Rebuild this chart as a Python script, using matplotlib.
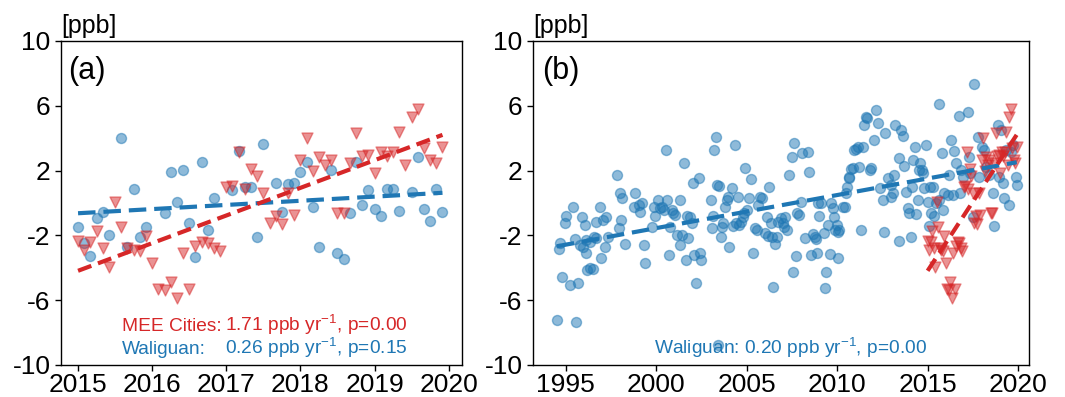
import numpy as np
import matplotlib
matplotlib.use("Agg")
import matplotlib.pyplot as plt

plt.rcParams['font.family'] = ['Liberation Sans', 'DejaVu Sans']
plt.rcParams['mathtext.fontset'] = 'custom'
plt.rcParams['mathtext.rm'] = 'Liberation Sans'
plt.rcParams['mathtext.it'] = 'Liberation Sans:italic'
plt.rcParams['axes.unicode_minus'] = False

BLUE = '#1f77b4'
RED = '#d62728'

# =============================
# DATA (monthly anomalies, ppb)
# =============================
# MEE cities, Jan 2015 - Dec 2019
mee_cities = [-2.33, -2.90, -2.39, -1.71, -2.80, -3.97, 0.04, -1.46, -2.80, -2.90, -2.94, -2.04,
              -3.68, -5.33, -5.37, -4.90, -5.88, -3.07, -5.33, -2.65, -2.43, -2.45, -2.80, -2.94,
              1.01, 1.07, 3.13, 0.84, 2.08, 1.69, 0.60, -1.21, -0.78, -1.32, 0.60, -0.74,
              2.65, 3.99, 1.98, 2.82, 2.35, 2.65, -0.60, -0.60, 2.45, 4.34, 2.90, 2.96,
              1.87, 3.13, 2.90, 3.13, 4.40, 2.35, 5.29, 5.80, 3.37, 2.65, 2.45, 3.44]

# Waliguan, Jan 2015 - Dec 2019 (panel a)
waliguan_a = [-1.50, -2.49, -3.25, -0.95, -0.53, -1.95, np.nan, 4.01, -2.70, 0.84, -2.12, -1.50,
              np.nan, np.nan, -0.60, 1.89, 0.08, 2.06, -1.26, -3.35, 2.55, -1.67, 0.29, np.nan,
              np.nan, 0.80, 3.23, 1.01, 1.01, -2.08, 3.66, np.nan, 1.26, -0.53, 1.17, 1.26,
              1.93, 2.55, -0.23, -2.72, np.nan, 2.06, -3.09, -3.48, -0.64, 2.51, -0.12, 0.80,
              -0.39, -0.80, 0.84, 0.84, -0.47, np.nan, 0.70, 2.86, -0.39, -1.11, 0.88, -0.53]

# Waliguan long record (panel b)
wlg_year = [1994.52, 1995.59, 1994.82, 1995.26, 1995.70, 1994.63, 1994.71, 1995.04, 1994.95, 1995.41,
            1995.50, 1995.78, 1995.92, 1996.05, 1996.11, 1996.18, 1996.37, 1996.51, 1996.55, 1996.66,
            1996.70, 1996.88, 1996.97, 1997.06, 1997.16, 1997.25, 1997.34, 1997.84, 1998.02, 1998.13,
            1997.95, 1998.08, 1998.26, 1996.14, 1995.96, 1996.33,
            1998.85, 1998.76, 1999.03, 1999.12, 1999.22, 1999.35, 1999.40, 1999.77, 1999.86, 1999.95,
            2000.08, 2000.19, 2000.32, 2000.41, 2000.56, 2000.63, 2000.69, 2000.78, 2000.88, 2000.96,
            2001.06, 2001.15, 2001.30, 2001.33, 2001.43, 2001.56, 2001.70, 2001.67, 2001.79, 2001.89,
            2001.98, 2002.03, 2002.11, 2002.22, 2002.35, 2002.40, 2002.48, 2003.02, 2003.09,
            2003.12, 2003.22, 2003.30, 2003.38, 2003.49, 2003.56, 2003.62, 2003.71, 2003.80, 2003.90,
            2003.99, 2004.04, 2004.17, 2004.26, 2004.36, 2004.41, 2004.54, 2004.59, 2004.67, 2004.78,
            2004.85, 2004.91, 2005.00, 2005.15, 2005.22, 2005.37, 2005.46, 2005.55, 2005.64, 2005.74,
            2005.83, 2006.01, 2006.10, 2006.20, 2006.25, 2006.33, 2006.38, 2006.47, 2006.57, 2006.66,
            2006.75, 2006.88, 2006.99, 2007.06, 2007.12, 2007.21, 2007.36, 2007.49, 2007.58, 2007.62,
            2007.73, 2007.80, 2007.91, 2008.04, 2008.22, 2003.43,
            2008.01, 2008.38, 2008.47, 2008.56, 2008.66, 2008.78, 2008.84, 2008.90, 2008.93, 2009.02,
            2009.12, 2009.26, 2009.39, 2009.34, 2009.48, 2009.58, 2009.67, 2009.76, 2009.82, 2009.89,
            2010.00, 2010.04, 2010.13, 2010.05, 2010.31, 2010.41, 2010.50, 2010.55, 2010.63, 2010.68,
            2010.77, 2010.87, 2010.96, 2011.05, 2011.14, 2011.23, 2011.33, 2011.42, 2011.51, 2011.60,
            2011.66, 2011.79, 2011.88, 2012.06, 2012.15, 2012.25, 2012.39, 2012.52, 2012.58, 2012.65,
            2012.80, 2012.98, 2013.08, 2013.17,
            2012.97, 2013.16, 2013.40, 2013.43, 2013.53, 2013.62, 2013.71, 2013.80, 2013.90, 2013.95,
            2014.08, 2014.13, 2014.21, 2014.32, 2014.36, 2014.45, 2014.50, 2014.58, 2014.69, 2014.76,
            2014.82, 2014.91, 2015.00, 2015.06, 2015.13, 2015.18, 2015.28, 2015.37, 2015.46, 2015.61,
            2015.64, 2015.79, 2015.87, 2015.92, 2016.10, 2016.20, 2016.29, 2016.38, 2016.47, 2016.57,
            2016.71, 2016.79, 2016.84, 2016.93, 2017.21, 2017.27, 2017.34, 2017.49, 2017.58, 2017.76,
            2017.85, 2018.00, 2018.13, 2018.22, 2018.41, 2018.59, 2018.68, 2018.87, 2018.96, 2019.05,
            2019.18, 2019.24, 2019.33, 2019.48, 2019.60, 2019.73, 2019.88, 2019.92]
wlg_ppb = [-7.22, -7.33, -4.59, -5.06, -4.96, -2.86, -2.49, -0.80, -1.25, -0.23,
           -2.24, -2.59, -0.84, -1.36, -3.07, -4.14, -4.03, -4.10, -2.08, -2.18,
           -1.15, -0.23, -3.42, -1.05, -2.70, -0.84, -2.08, 1.73, 0.64, 0.29,
           -1.56, -1.05, -2.53, -2.28, -2.70, -2.39,
           0.60, -0.23, -0.12, -0.53, 0.02, -2.59, -3.72, -1.46, -0.23, -0.80,
           0.19, -0.33, -0.23, -0.43, 3.27, 0.19, -3.21, -1.46, -0.43, -0.64,
           -0.74, -1.98, -2.59, 0.19, -1.98, 2.45, -0.80, -3.52, -2.18, -0.84,
           -1.25, 1.21, -3.21, -4.96, 1.52, -3.11, -3.52, 0.19, -1.56,
           -0.80, 3.27, 4.09, 1.11, 1.05, -2.08, -1.46, -1.21, -0.23, 0.19,
           0.39, -2.70, 0.91, -1.42, 3.58, -1.25, 0.39, -1.36, -1.15, -0.84,
           -0.60, 2.14, -0.43, 0.29, 1.46, -3.07, -1.56, -1.66, -0.12, 0.39,
           0.29, -1.87, -0.84, -2.04, 1.01, -1.25, -2.08, -5.21, -2.53, -2.08,
           -1.15, -0.95, -1.25, -1.46, -0.88, -1.66, 1.73, 2.86, -4.24, 3.68,
           -3.27, -0.60, -0.74, 3.07, -2.14, -8.77,
           0.08, 3.17, 1.93, -3.21, -1.91, -2.08, -2.24, -3.07, -0.02, -0.80,
           -0.02, -1.87, -4.24, -5.27, -1.36, -3.13, -0.02, -0.33, -0.84, -1.66,
           -1.36, -1.77, -1.66, -3.40, -0.23, -0.23, 0.60, 1.01, 1.52, 1.63,
           2.08, 2.14, 3.27, 3.31, 3.48, 2.24, -1.66, 3.48, 4.81, 5.33,
           5.23, 2.04, 2.14, 3.89, 5.74, 4.92, 0.91, 0.19, -1.79, 4.30,
           1.52, 1.11, 0.60, 4.81,
           0.39, 1.72, 2.76, -2.35, 4.51, 4.14, 2.28, 0.70, -0.33, -0.60,
           -2.08, 1.01, 2.65, 3.44, -0.70, 0.19, 2.04, 2.45, 2.04, 1.83,
           0.91, 3.58, 0.08, -1.42, 1.01, -0.64, 1.01, -0.80, 0.02, 6.09,
           0.19, 3.07, -0.43, 0.60, 0.49, 1.72, 3.89, 0.49, 3.23, 2.45,
           5.37, 0.60, 2.04, 1.62, 5.64, 2.86, 1.83, -0.84, 7.35, 4.05,
           1.62, 3.48, 3.27, 2.24, 1.72, 0.60, -1.42, 4.81, 1.62, 4.51,
           1.21, 0.29, 3.27, -0.12, 3.17, 3.58, 1.62, 1.11]

month_time = 2015 + np.arange(60) / 12.0
yticks = [-10, -6, -2, 2, 6, 10]


def trend_line(ax, x, y, color, dashes):
    x = np.asarray(x, dtype=float)
    y = np.asarray(y, dtype=float)
    ok = ~np.isnan(y)
    k, b = np.polyfit(x[ok], y[ok], 1)
    xx = np.array([x[ok].min(), x[ok].max()])
    ax.plot(xx, k * xx + b, color=color, lw=3, linestyle=(0, dashes), zorder=4)


def style_axis(ax):
    ax.set_ylim(-10, 10)
    ax.set_yticks(yticks)
    ax.tick_params(labelsize=19, length=4.5, width=1)
    ax.tick_params(axis='x', pad=1.5)
    ax.tick_params(axis='y', pad=3)
    for sp in ax.spines.values():
        sp.set_linewidth(1)
    ax.text(0.0, 1.01, '[ppb]', transform=ax.transAxes, ha='left', va='bottom', fontsize=18)


fig = plt.figure(figsize=(10.65, 3.97), dpi=100)
ax1 = fig.add_axes([61 / 1065, 32 / 397, 401 / 1065, 324 / 397])
ax2 = fig.add_axes([533 / 1065, 32 / 397, 496 / 1065, 324 / 397])

# =============================
# PANEL (a)
# =============================
ax1.scatter(month_time, waliguan_a, s=52, color=BLUE, alpha=0.5, edgecolors=BLUE, linewidths=1, zorder=2)
ax1.scatter(month_time, mee_cities, s=62, marker='v', color=RED, alpha=0.5, edgecolors=RED, linewidths=1, zorder=3)
trend_line(ax1, month_time, waliguan_a, BLUE, (4.2, 1.9))
trend_line(ax1, month_time, mee_cities, RED, (3.4, 1.7))
ax1.set_xlim(2014.77, 2020.18)
ax1.set_xticks([2015, 2016, 2017, 2018, 2019, 2020])
style_axis(ax1)
ax1.text(0.018, 0.955, '(a)', transform=ax1.transAxes, ha='left', va='top', fontsize=22)
ax1.text(2015.59, -7.9, 'MEE Cities:', color=RED, fontsize=13.8, va='baseline')
ax1.text(2016.98, -7.9, r'1.71 ppb yr$^{-1}$, p=0.00', color=RED, fontsize=13.8, va='baseline')
ax1.text(2015.59, -9.32, 'Waliguan:', color=BLUE, fontsize=13.8, va='baseline')
ax1.text(2016.98, -9.32, r'0.26 ppb yr$^{-1}$, p=0.15', color=BLUE, fontsize=13.8, va='baseline')

# =============================
# PANEL (b)
# =============================
ax2.scatter(wlg_year, wlg_ppb, s=52, color=BLUE, alpha=0.5, edgecolors=BLUE, linewidths=1, zorder=2)
ax2.scatter(month_time, mee_cities, s=62, marker='v', color=RED, alpha=0.5, edgecolors=RED, linewidths=1, zorder=3)
trend_line(ax2, wlg_year, wlg_ppb, BLUE, (4.2, 1.9))
trend_line(ax2, month_time, mee_cities, RED, (3.4, 1.7))
ax2.set_xlim(1993.2, 2020.6)
ax2.set_xticks([1995, 2000, 2005, 2010, 2015, 2020])
style_axis(ax2)
ax2.text(0.018, 0.955, '(b)', transform=ax2.transAxes, ha='left', va='top', fontsize=22)
ax2.text(1999.9, -9.32, r'Waliguan: 0.20 ppb yr$^{-1}$, p=0.00', color=BLUE, fontsize=13.8, va='baseline')

plt.savefig('out.png', dpi=100)
plt.close()
